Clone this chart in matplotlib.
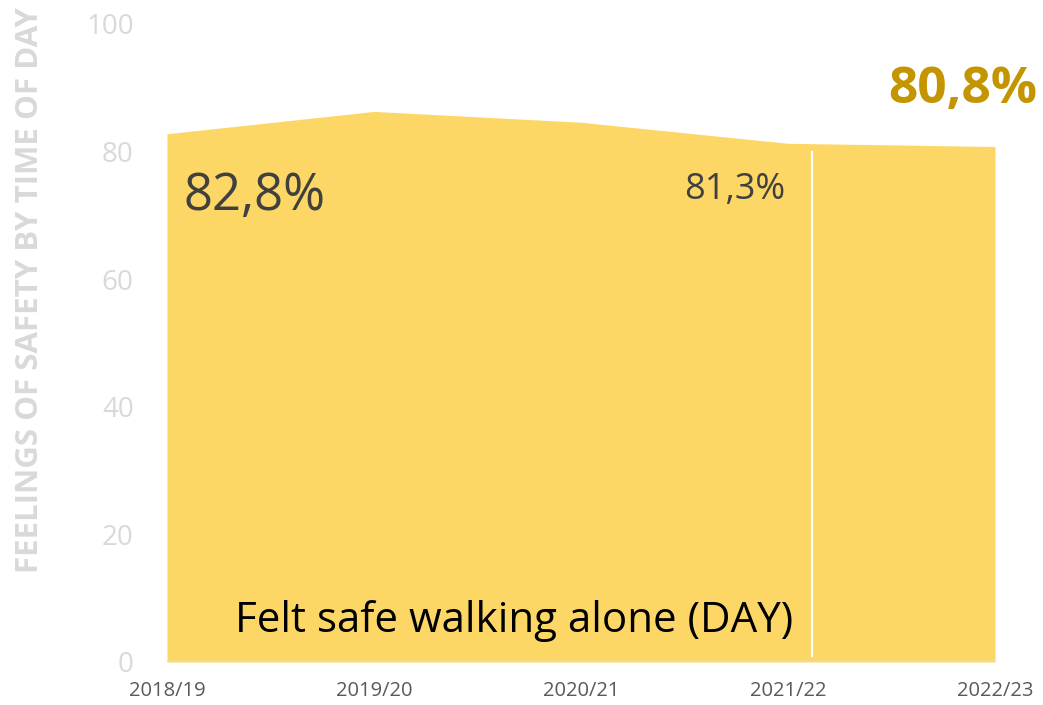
import matplotlib
matplotlib.use("Agg")
import matplotlib.pyplot as plt

years = ["2018/19", "2019/20", "2020/21", "2021/22", "2022/23"]
felt_safe_day = [82.8, 86.3, 84.6, 81.3, 80.8]
y_ticks = [0, 20, 40, 60, 80, 100]

plt.rcParams["font.family"] = ["Open Sans", "DejaVu Sans"]

fig = plt.figure(figsize=(10.43, 7.05), dpi=100)
ax = fig.add_axes([167 / 1043, 43 / 705, 828 / 1043, 638 / 705])

x = range(len(years))
ax.fill_between(x, 0, felt_safe_day, color="#FDD766", linewidth=0)
ax.axhline(0, color="#d9d9d9", lw=2.5, zorder=1)
# divider sits a little right of the 2021/22 point
ax.plot([3.116, 3.116], [1, 80], color="white", lw=1.5)

ax.set_xlim(0, len(years) - 1)
ax.set_ylim(0, 100)
ax.set_xticks(list(x))
ax.set_xticklabels(years, fontsize=14.5, color="#595959")
ax.set_yticks(y_ticks)
ax.set_yticklabels([str(t) for t in y_ticks], fontsize=20, color="#d9d9d9")
ax.tick_params(length=0, axis="y", pad=24)
ax.tick_params(length=0, axis="x", pad=14)
for s in ax.spines.values():
    s.set_visible(False)

fig.text(30 / 1043, 1 - 290 / 705, "FEELINGS OF SAFETY BY TIME OF DAY",
         rotation=90, fontsize=22.5, fontweight="bold", color="#d9d9d9",
         ha="center", va="center")

ax.text(0.08, 73, f"{felt_safe_day[0]:.1f}%".replace(".", ","),
        fontsize=36.5, color="#404040", ha="left", va="center")
ax.text(2.5, 74, f"{felt_safe_day[3]:.1f}%".replace(".", ","),
        fontsize=26, color="#404040", ha="left", va="center")
fig.text(1037 / 1043, 1 - 90 / 705, f"{felt_safe_day[4]:.1f}%".replace(".", ","),
         fontsize=37, fontweight="bold", color="#C49500", ha="right", va="center")
ax.text(0.33, 6.5, "Felt safe walking alone (DAY)", fontsize=30.3,
        color="black", ha="left", va="center")

fig.savefig("out.png", dpi=100)
